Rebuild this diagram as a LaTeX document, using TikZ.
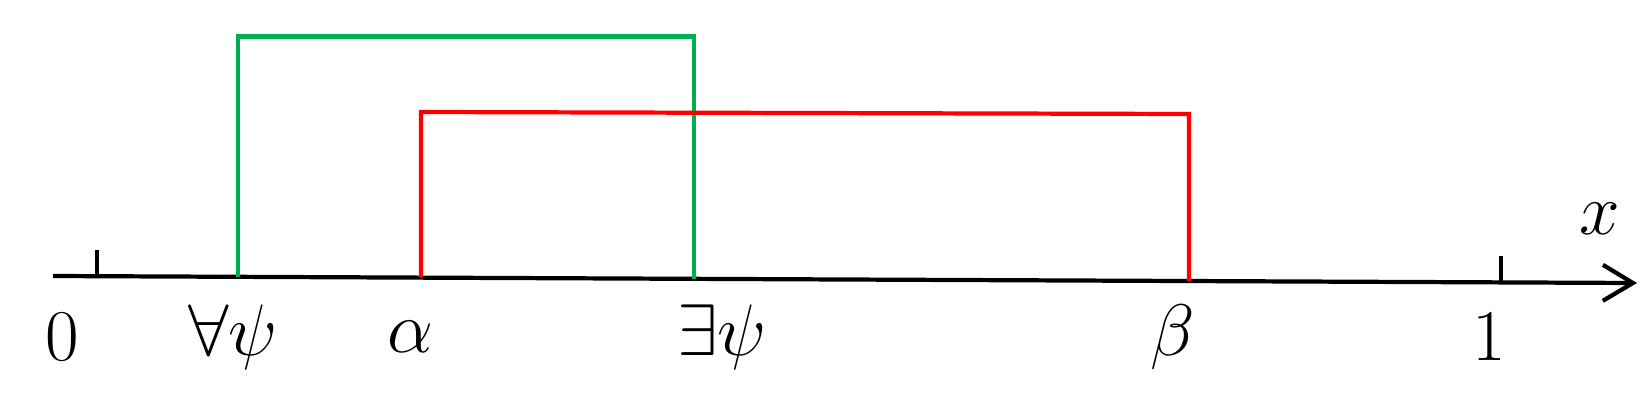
\documentclass[tikz,border=0pt]{standalone}
\usetikzlibrary{arrows.meta}
\definecolor{wgreen}{RGB}{0,176,80}
\definecolor{wred}{RGB}{255,0,0}
\begin{document}
\begin{tikzpicture}[x=0.01cm,y=-0.01cm,
  axisline/.style={line width=1.2pt,-{Straight Barb[length=0.3cm,width=0.36cm,line width=1.2pt]}},
  tickline/.style={line width=1.2pt},
  greenbox/.style={line width=1.2pt,draw=wgreen,line join=miter},
  redbox/.style={line width=1.2pt,draw=wred,line join=miter},
  lbl/.style={font=\fontsize{21}{24}\selectfont,inner sep=0pt}]
\useasboundingbox (0,0) rectangle (1648,400);
% axis
\coordinate (a0) at (53,276);
\coordinate (a1) at (1637,283);
\draw[axisline] (a0) -- (a1);
% ticks
\coordinate (t0b) at (97,276.2);
\coordinate (t0t) at (97,250);
\coordinate (t1b) at (1501,282.4);
\coordinate (t1t) at (1501,256);
\draw[tickline] (t0b) -- (t0t);
\draw[tickline] (t1b) -- (t1t);
% green interval
\coordinate (g1) at (238,276.8);
\coordinate (g2) at (238,36.5);
\coordinate (g3) at (694,36.5);
\coordinate (g4) at (694,278.8);
\draw[greenbox] (g1) -- (g2) -- (g3) -- (g4);
% red interval
\coordinate (r1) at (421,277.6);
\coordinate (r2) at (421,112);
\coordinate (r3) at (1189,114);
\coordinate (r4) at (1189,281);
\draw[redbox] (r1) -- (r2) -- (r3) -- (r4);
% labels
\node[lbl] (l0) at (62,337) {$0$};
\node[lbl] (lall) at (233,337) {$\forall\psi$};
\node[lbl] (lalpha) at (410,337) {$\alpha$};
\node[lbl] (lex) at (722,337) {$\exists\psi$};
\node[lbl] (lbeta) at (1173,337) {$\beta$};
\node[lbl] (l1) at (1489,337) {$1$};
\node[lbl] (lx) at (1600,219) {$x$};
\end{tikzpicture}
\end{document}
